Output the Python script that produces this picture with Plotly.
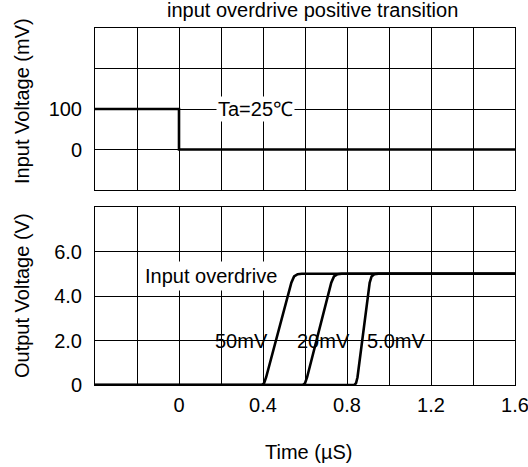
import plotly.graph_objects as go

# ---- data ----
t_input = [-0.4, 0.0, 0.0, 1.6]
v_input = [100, 100, 0, 0]

t_50mv = [-0.4, 0.395, 0.405, 0.415, 0.535, 0.548, 0.565, 0.585, 1.6]
v_50mv = [0, 0, 0.08, 0.35, 4.6, 4.88, 4.98, 5.0, 5.0]

t_20mv = [-0.4, 0.59, 0.60, 0.61, 0.725, 0.738, 0.755, 0.775, 1.6]
v_20mv = [0, 0, 0.08, 0.35, 4.6, 4.88, 4.98, 5.0, 5.0]

t_5mv = [-0.4, 0.835, 0.843, 0.85, 0.908, 0.917, 0.93, 0.95, 1.6]
v_5mv = [0, 0, 0.08, 0.35, 4.6, 4.88, 4.98, 5.0, 5.0]

x_grid = [-0.4, -0.2, 0.0, 0.2, 0.4, 0.6, 0.8, 1.0, 1.2, 1.4, 1.6]
x_labels_bottom = ["", "", "0", "", "0.4", "", "0.8", "", "1.2", "", "1.6"]
y_top_grid = [-100, 0, 100, 200, 300]
y_top_labels = ["", "0", "100", "", ""]
y_bot_grid = [0, 2, 4, 6, 8]
y_bot_labels = ["0", "2.0", "4.0", "6.0", ""]

FONT = "Liberation Sans, Arial, sans-serif"
FS = 20

fig = go.Figure()
line_style = dict(color="black", width=2.6)
fig.add_trace(go.Scatter(x=t_input, y=v_input, mode="lines", line=line_style,
                         xaxis="x", yaxis="y", showlegend=False, hoverinfo="skip"))
for tt, vv in [(t_50mv, v_50mv), (t_20mv, v_20mv), (t_5mv, v_5mv)]:
    fig.add_trace(go.Scatter(x=tt, y=vv, mode="lines", line=line_style,
                             xaxis="x2", yaxis="y2", showlegend=False, hoverinfo="skip"))

H = 467
ml, mr, mt, mb = 95, 13, 28, 82
ph = H - mt - mb  # 357
def py(pix):
    return (H - mb - pix) / ph
pw = 528 - ml - mr
def px(pix):
    return (pix - ml) / pw

axis_common = dict(showline=True, mirror=True, linecolor="black", linewidth=1,
                   showgrid=True, gridcolor="black", gridwidth=1, zeroline=False,
                   tickfont=dict(family=FONT, size=FS, color="black"),
                   ticks="", tickmode="array", automargin=False)

fig.update_layout(
    width=528, height=467,
    margin=dict(l=ml, r=mr, t=mt, b=mb, autoexpand=False),
    paper_bgcolor="white", plot_bgcolor="white",
    font=dict(family=FONT, size=FS, color="black"),
    xaxis=dict(domain=[0, 1], anchor="y", range=[-0.4, 1.6], tickvals=x_grid,
               ticktext=[""] * len(x_grid), **axis_common),
    yaxis=dict(domain=[py(190), 1], anchor="x", range=[-100, 300], tickvals=y_top_grid,
               ticktext=y_top_labels, ticklabelstandoff=8, **axis_common),
    xaxis2=dict(domain=[0, 1], anchor="y2", range=[-0.4, 1.6], tickvals=x_grid,
                ticktext=x_labels_bottom, ticklabelstandoff=2,
                ticklabeloverflow="allow", **axis_common),
    yaxis2=dict(domain=[0, py(207)], anchor="x2", range=[0, 8], tickvals=y_bot_grid,
                ticktext=y_bot_labels, ticklabelstandoff=8, **axis_common),
)

ann_font = dict(family=FONT, size=FS, color="black")
annotations = [
    dict(text="input overdrive positive transition", xref="paper", yref="paper",
         x=px(312), y=py(10), xanchor="center", yanchor="middle", showarrow=False, font=ann_font),
    dict(text="Input Voltage (mV)", xref="paper", yref="paper", textangle=-90,
         x=px(22), y=py(101), xanchor="center", yanchor="middle", showarrow=False, font=ann_font),
    dict(text="Output Voltage (V)", xref="paper", yref="paper", textangle=-90,
         x=px(22), y=py(296), xanchor="center", yanchor="middle", showarrow=False, font=ann_font),
    dict(text="Time (µS)", xref="paper", yref="paper",
         x=px(308), y=py(452), xanchor="center", yanchor="middle", showarrow=False, font=ann_font),
    dict(text="Ta=25℃", xref="x", yref="y", x=0.366, y=100, showarrow=False,
         bgcolor="white", font=ann_font, borderpad=1),
    dict(text="Input overdrive", xref="x2", yref="y2", x=0.152, y=4.92, showarrow=False,
         bgcolor="white", font=ann_font, borderpad=3),
    dict(text="50mV", xref="x2", yref="y2", x=0.298, y=2.0, showarrow=False, font=ann_font),
    dict(text="20mV", xref="x2", yref="y2", x=0.69, y=2.0, showarrow=False, font=ann_font),
    dict(text="5.0mV", xref="x2", yref="y2", x=1.033, y=2.0, showarrow=False, font=ann_font),
]
fig.update_layout(annotations=annotations)

fig.write_html("out.html")
